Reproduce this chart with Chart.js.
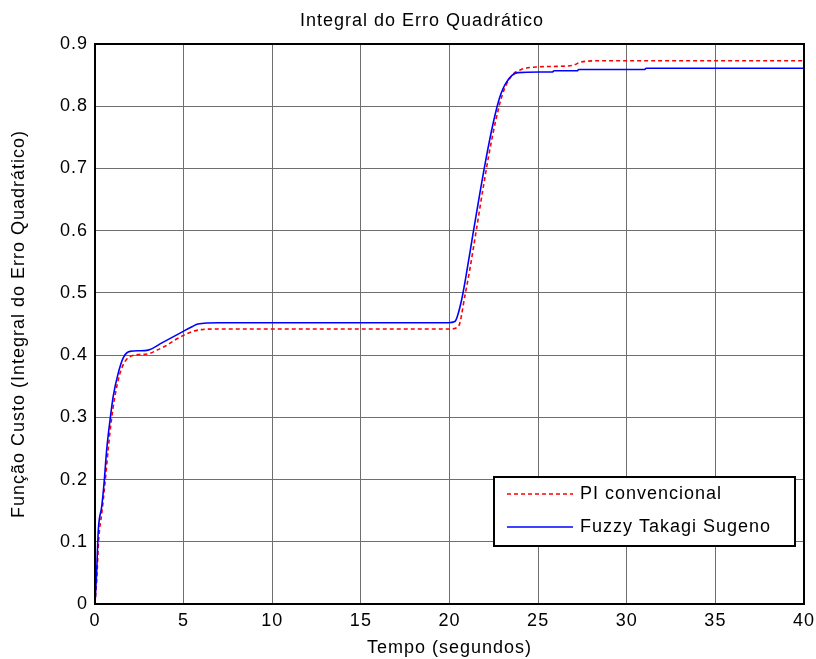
<!DOCTYPE html>
<html>
<head>
<meta charset="utf-8">
<script src="https://cdn.jsdelivr.net/npm/chart.js@4.4.1/dist/chart.umd.min.js"></script>
<style>
  html, body { margin: 0; padding: 0; background: #fff; }
  #wrap { width: 816px; height: 659px; }
</style>
</head>
<body>
<div id="wrap"><canvas id="grafico" width="816" height="659"></canvas></div>
<script>
'use strict';

var titulo = 'Integral do Erro Quadrático';
var tituloX = 'Tempo (segundos)';
var tituloY = 'Função Custo (Integral do Erro Quadrático)';

// PI convencional (tracejado vermelho)
var tempoPI = [0, 0.1, 0.2, 0.4, 0.55, 0.75, 0.9, 1.1, 1.4, 1.7, 2.0, 2.5, 3.0, 3.5,
  4.0, 4.5, 5.0, 5.5, 6.0, 7.0, 20.0, 20.5, 20.88, 21.16, 21.53, 21.9, 22.26, 22.64,
  23.01, 23.48, 24.05, 24.9, 26.0, 27.0, 27.4, 28.5, 30.0, 40.0];
var valoresPI = [0, 0.04, 0.1, 0.15, 0.19, 0.25, 0.29, 0.33, 0.37, 0.39, 0.398, 0.401, 0.402, 0.408,
  0.415, 0.424, 0.432, 0.438, 0.441, 0.442, 0.442, 0.446, 0.497, 0.54, 0.604, 0.669, 0.728, 0.781,
  0.821, 0.848, 0.859, 0.863, 0.864, 0.866, 0.871, 0.873, 0.873, 0.873];

// Fuzzy Takagi Sugeno (linha azul)
var tempoFuzzy = [0, 0.09, 0.19, 0.38, 0.51, 0.66, 0.85, 1.03, 1.31, 1.6, 1.97, 2.5, 3.0, 3.8,
  4.9, 5.5, 5.8, 7.0, 19.93, 20.3, 20.67, 20.95, 21.32, 21.7, 22.07, 22.45, 22.83, 23.2,
  23.85, 25.1, 25.8, 25.9, 27.2, 27.3, 31.0, 31.1, 40.0];
var valoresFuzzy = [0, 0.05, 0.12, 0.157, 0.194, 0.248, 0.296, 0.334, 0.371, 0.396, 0.406, 0.407, 0.408, 0.42,
  0.437, 0.446, 0.45, 0.452, 0.452, 0.454, 0.487, 0.53, 0.594, 0.658, 0.717, 0.771, 0.814, 0.838,
  0.854, 0.855, 0.855, 0.857, 0.857, 0.859, 0.859, 0.861, 0.861];

var legendas = ['PI convencional', 'Fuzzy Takagi Sugeno'];
var ticksX = {min: 0, max: 40, passo: 5};
var ticksY = {min: 0, max: 0.9, passo: 0.1};

function pares(xs, ys) {
  var out = [];
  for (var i = 0; i < xs.length; i++) {
    out.push({x: xs[i], y: ys[i]});
  }
  return out;
}

var fonte = "'Liberation Sans', Arial, sans-serif";
var espaco = '1px';

// texto do MATLAB sai mais espacado; aplica antes de medir e de desenhar
var espacamento = {
  id: 'espacamento',
  beforeLayout: function(chart) { chart.ctx.letterSpacing = espaco; },
  beforeDraw: function(chart) { chart.ctx.letterSpacing = espaco; }
};

// moldura preta em volta da area do grafico
var moldura = {
  id: 'moldura',
  afterDatasetsDraw: function(chart) {
    var a = chart.chartArea;
    var ctx = chart.ctx;
    ctx.save();
    ctx.strokeStyle = '#000';
    ctx.lineWidth = 2;
    ctx.strokeRect(a.left, a.top, a.right - a.left, a.bottom - a.top);
    ctx.restore();
  }
};

// titulo centrado como no MATLAB
var tituloPlugin = {
  id: 'tituloPlugin',
  afterDraw: function(chart, args, opts) {
    var ctx = chart.ctx;
    ctx.save();
    ctx.font = '18px ' + fonte;
    ctx.fillStyle = '#000';
    ctx.textAlign = 'center';
    ctx.textBaseline = 'middle';
    ctx.fillText(opts.text, opts.x, opts.y);
    ctx.restore();
  }
};

// legenda dentro da area, canto inferior direito
var legendaPlugin = {
  id: 'legendaPlugin',
  afterDraw: function(chart, args, opts) {
    var a = chart.chartArea;
    var ctx = chart.ctx;
    var w = opts.width, h = opts.height;
    var x0 = a.right - opts.right - w;
    var y0 = a.bottom - opts.bottom - h;
    ctx.save();
    ctx.fillStyle = '#fff';
    ctx.fillRect(x0, y0, w, h);
    ctx.strokeStyle = '#000';
    ctx.lineWidth = 2;
    ctx.strokeRect(x0, y0, w, h);
    ctx.font = '18px ' + fonte;
    ctx.textBaseline = 'middle';
    ctx.textAlign = 'left';
    chart.data.datasets.forEach(function(ds, i) {
      var cy = y0 + 17 + i * 33;
      ctx.beginPath();
      ctx.strokeStyle = ds.borderColor;
      ctx.lineWidth = ds.borderWidth;
      ctx.setLineDash(ds.borderDash || []);
      ctx.moveTo(x0 + 13, cy);
      ctx.lineTo(x0 + 79, cy);
      ctx.stroke();
      ctx.setLineDash([]);
      ctx.fillStyle = '#000';
      ctx.fillText(ds.label, x0 + 86, cy);
    });
    ctx.restore();
  }
};

var config = {
  type: 'line',
  data: {
    datasets: [{
      label: legendas[0],
      data: pares(tempoPI, valoresPI),
      borderColor: '#ff0000',
      borderWidth: 1.6,
      borderDash: [4, 3],
      pointRadius: 0,
      cubicInterpolationMode: 'monotone',
      order: 1
    }, {
      label: legendas[1],
      data: pares(tempoFuzzy, valoresFuzzy),
      borderColor: '#0000ff',
      borderWidth: 1.6,
      pointRadius: 0,
      cubicInterpolationMode: 'monotone',
      order: 0
    }]
  },
  options: {
    responsive: false,
    animation: false,
    layout: {padding: {top: 44, right: 12, bottom: 0, left: 0}},
    plugins: {
      legend: {display: false},
      title: {display: false},
      tooltip: {enabled: false},
      tituloPlugin: {text: titulo, x: 422, y: 21},
      legendaPlugin: {width: 301, height: 69, right: 9, bottom: 58}
    },
    scales: {
      x: {
        type: 'linear',
        min: ticksX.min,
        max: ticksX.max,
        afterFit: function(scale) {
          scale.height = 55;
          scale.paddingLeft = 0;
          scale.paddingRight = 0;
        },
        ticks: {
          stepSize: ticksX.passo,
          color: '#000',
          padding: 6,
          maxRotation: 0,
          font: {family: fonte, size: 18}
        },
        grid: {color: '#6e6e6e', lineWidth: 1, drawTicks: false},
        border: {display: false},
        title: {
          display: true,
          text: tituloX,
          color: '#000',
          font: {family: fonte, size: 18},
          padding: {top: 2, bottom: 0}
        }
      },
      y: {
        type: 'linear',
        min: ticksY.min,
        max: ticksY.max,
        afterFit: function(scale) {
          scale.width = 95;
          scale.paddingTop = 0;
          scale.paddingBottom = 0;
        },
        ticks: {
          stepSize: ticksY.passo,
          color: '#000',
          padding: 7,
          font: {family: fonte, size: 18},
          callback: function(v) { return String(+v.toFixed(1)); }
        },
        grid: {color: '#6e6e6e', lineWidth: 1, drawTicks: false},
        border: {display: false},
        title: {
          display: true,
          text: tituloY,
          color: '#000',
          font: {family: fonte, size: 18},
          padding: {top: 8, bottom: 0}
        }
      }
    }
  },
  plugins: [espacamento, moldura, tituloPlugin, legendaPlugin]
};

new Chart(document.getElementById('grafico').getContext('2d'), config);
</script>
</body>
</html>
